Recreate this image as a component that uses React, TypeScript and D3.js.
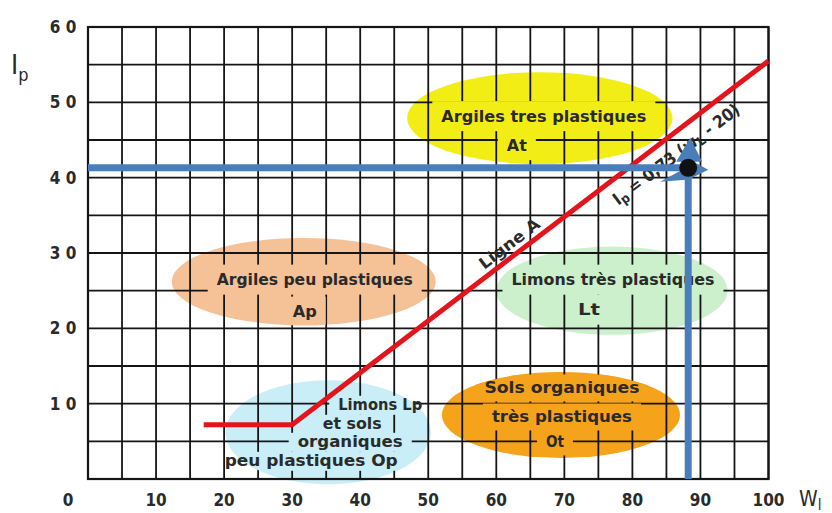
import React from 'react';
import * as d3 from 'd3';

// ---------- data ----------
const gridWL = [0, 5, 10, 15, 20, 25, 30, 35, 40, 45, 50, 55, 60, 65, 70, 75, 80, 85, 90, 95, 100];
const gridIp = [0, 5, 10, 15, 20, 25, 30, 35, 40, 45, 50, 55, 60];
const xTickValues = [10, 20, 30, 40, 50, 60, 70, 80, 90, 100];
const yTickValues = [10, 20, 30, 40, 50, 60];
const originLabel = '0';

// Ligne A (as drawn)
const lineAWL = [17, 30, 100];
const lineAIp = [7.2, 7.2, 55.5];

// sample point
const sampleWL = 88.2;
const sampleIp = 41.3;

// zones
const zoneLines = [
  ['Argiles tres plastiques', 'At'],
  ['Argiles peu plastiques', 'Ap'],
  ['Limons très plastiques', 'Lt'],
  ['Sols organiques', 'très plastiques', 'Ot'],
  ['Limons Lp', 'et sols', 'organiques', 'peu plastiques Op'],
];
const zoneWL = [66.4, 31.7, 77.0, 69.5, 35.3];
const zoneIp = [47.9, 26.2, 25.0, 8.5, 6.2];
const zoneSpanWL = [19.5, 19.4, 17.0, 17.5, 15.1];
const zoneSpanIp = [6.1, 5.8, 5.85, 5.7, 6.9];

// ---------- styles / layout ----------
const W = 832;
const H = 513;
const M = { left: 88, top: 27, right: 768.5, bottom: 479 };
const FONT = "'DejaVu Sans Condensed', 'DejaVu Sans', sans-serif";
const TEXT = '#2a2a2a';
const zoneStyle = [
  { fill: '#f3ed16', rowH: 30, fs: 16, lines: [{ dx: 4, dy: -2, w: 205 }, { dx: -23, dy: 27, w: 20 }] },
  { fill: '#f5c197', rowH: 30, fs: 16, lines: [{ dx: 11, dy: -2, w: 196 }, { dx: 1, dy: 30, w: 24 }] },
  { fill: '#cbf0cb', rowH: 30, fs: 16, lines: [{ dx: 1, dy: -11, w: 203 }, { dx: -23, dy: 19, w: 22 }] },
  { fill: '#f6a31c', rowH: 27, fs: 16, lines: [{ dx: 1, dy: -27, w: 155 }, { dx: 1, dy: 2, w: 140 }, { dx: -6, dy: 27, w: 18 }] },
  { fill: '#c9eef8', rowH: 19, fs: 15, lines: [{ dx: 52, dy: -27, w: 84 }, { dx: 24, dy: -8, w: 59 }, { dx: 22, dy: 10, w: 105 }, { dx: -17, dy: 29, w: 173 }] },
];

export default function App() {
  const x = d3.scaleLinear().domain([0, 100]).range([M.left, M.right]);
  const y = d3.scaleLinear().domain([0, 60]).range([M.bottom, M.top]);

  const linePts: [number, number][] = lineAWL.map((w, i) => [x(w), y(lineAIp[i])]);
  const linePath = d3.line()(linePts) || '';

  const theta = Math.atan2(y(lineAIp[2]) - y(lineAIp[1]), x(lineAWL[2]) - x(lineAWL[1]));
  const angDeg = (theta * 180) / Math.PI;
  const onLine = (w: number): [number, number] => {
    const ip = lineAIp[1] + ((lineAIp[2] - lineAIp[1]) * (w - lineAWL[1])) / (lineAWL[2] - lineAWL[1]);
    return [x(w), y(ip)];
  };
  const nUp = [Math.sin(theta), -Math.cos(theta)];
  const [la0, la1] = onLine(63);
  const ligneA = [la0 + nUp[0] * 12, la1 + nUp[1] * 12];
  const [f0, f1] = onLine(84.8);
  const formula = [f0 - nUp[0] * 18, f1 - nUp[1] * 18];

  const cx = x(sampleWL);
  const cy = y(sampleIp);
  const blue = '#4a7ebb';

  const zoneGeom = zoneLines.map((_, i) => ({
    cx: x(zoneWL[i]),
    cy: y(zoneIp[i]),
    rx: x(zoneSpanWL[i]) - x(0),
    ry: y(0) - y(zoneSpanIp[i]),
  }));

  return (
    <svg width={W} height={H} style={{ position: 'absolute', left: 0, top: 0, background: '#fff' }}>
      <defs>
        {zoneGeom.map((g, i) => (
          <clipPath id={'zc' + i} key={'zc' + i}>
            <ellipse cx={g.cx} cy={g.cy} rx={g.rx} ry={g.ry} />
          </clipPath>
        ))}
      </defs>

      {/* zones */}
      {zoneGeom.map((g, i) => (
        <ellipse key={'e' + i} cx={g.cx} cy={g.cy} rx={g.rx} ry={g.ry} fill={zoneStyle[i].fill} />
      ))}

      {/* grid */}
      <g stroke="#151515" strokeWidth={1.8}>
        {gridWL.map((v) => (
          <line key={'gx' + v} x1={x(v)} x2={x(v)} y1={y(0)} y2={y(60)} />
        ))}
        {gridIp.map((v) => (
          <line key={'gy' + v} x1={x(0)} x2={x(100)} y1={y(v)} y2={y(v)} />
        ))}
      </g>
      <rect x={x(0)} y={y(60)} width={x(100) - x(0)} height={y(0) - y(60)} fill="none" stroke="#151515" strokeWidth={2.2} />

      {/* cleared text areas + zone labels */}
      {zoneLines.map((lines, i) => {
        const g = zoneGeom[i];
        const st = zoneStyle[i];
        return (
          <g key={'z' + i}>
            <g clipPath={`url(#zc${i})`}>
              {lines.map((t, j) => {
                const l = st.lines[j];
                return (
                  <rect
                    key={'r' + j}
                    x={g.cx + l.dx - l.w / 2 - 9}
                    y={g.cy + l.dy - st.rowH / 2}
                    width={l.w + 18}
                    height={st.rowH}
                    fill={st.fill}
                  />
                );
              })}
            </g>
            {lines.map((t, j) => {
              const l = st.lines[j];
              return (
                <text
                  key={'t' + j}
                  x={g.cx + l.dx}
                  y={g.cy + l.dy}
                  textAnchor="middle"
                  dominantBaseline="central"
                  fontFamily={FONT}
                  fontStretch="condensed"
                  fontWeight={600}
                  fontSize={st.fs}
                  fill={TEXT}
                  textLength={l.w}
                  lengthAdjust="spacingAndGlyphs"
                >
                  {t}
                </text>
              );
            })}
          </g>
        );
      })}

      {/* Ligne A */}
      <path d={linePath} fill="none" stroke="#e4141c" strokeWidth={5} strokeLinejoin="miter" />
      <text
        x={ligneA[0]}
        y={ligneA[1]}
        transform={`rotate(${angDeg},${ligneA[0]},${ligneA[1]})`}
        textAnchor="middle"
        dominantBaseline="central"
        fontFamily={FONT}
        fontStretch="condensed"
        fontWeight={600}
        fontSize={16}
        fill={TEXT}
        textLength={72}
        lengthAdjust="spacingAndGlyphs"
      >
        Ligne A
      </text>
      <text
        x={formula[0]}
        y={formula[1]}
        transform={`rotate(${angDeg},${formula[0]},${formula[1]})`}
        textAnchor="middle"
        dominantBaseline="central"
        fontFamily={FONT}
        fontStretch="condensed"
        fontWeight={600}
        fontSize={17}
        fill={TEXT}
      >
        I<tspan fontSize={13} dy={4}>p</tspan>
        <tspan dy={-4}> = 0,73 (w</tspan>
        <tspan fontSize={13} dy={4}>L</tspan>
        <tspan dy={-4}> - 20)</tspan>
      </text>

      {/* sample point markers */}
      <line x1={x(0)} x2={cx - 4} y1={cy} y2={cy} stroke={blue} strokeWidth={7} />
      <line x1={cx} x2={cx} y1={y(0)} y2={cy + 4} stroke={blue} strokeWidth={7} />
      <path d={`M${cx + 2},${cy - 30} L${cx + 14},${cy - 6} L${cx - 12},${cy - 6} Z`} fill={blue} />
      <path d={`M${cx + 20},${cy + 2} L${cx - 2},${cy + 13} L${cx - 2},${cy - 10} Z`} fill={blue} />
      <path d={`M${cx - 28},${cy + 14} L${cx - 6},${cy + 2} L${cx - 2},${cy + 12} Z`} fill={blue} />
      <circle cx={cx} cy={cy} r={9} fill="#111" />

      {/* axes labels */}
      {yTickValues.map((v) => (
        <text
          key={'yt' + v}
          x={63}
          y={y(v)}
          textAnchor="middle"
          dominantBaseline="central"
          fontFamily={FONT}
          fontStretch="condensed"
          fontWeight={600}
          fontSize={17}
          fill={TEXT}
        >
          {String(v).split('').join(' ')}
        </text>
      ))}
      {xTickValues.map((v) => (
        <text
          key={'xt' + v}
          x={x(v)}
          y={y(0) + 21}
          textAnchor="middle"
          dominantBaseline="central"
          fontFamily={FONT}
          fontStretch="condensed"
          fontWeight={600}
          fontSize={17}
          fill={TEXT}
        >
          {v}
        </text>
      ))}
      <text
        x={x(0) - 20}
        y={y(0) + 21}
        textAnchor="middle"
        dominantBaseline="central"
        fontFamily={FONT}
        fontStretch="condensed"
        fontWeight={600}
        fontSize={17}
        fill={TEXT}
      >
        {originLabel}
      </text>

      {/* axis titles */}
      <text x={11} y={74} fontFamily={FONT} fontSize={27} fill={TEXT}>
        I<tspan fontSize={18} dy={7}>p</tspan>
      </text>
      <text x={799} y={506} fontFamily={FONT} fontSize={21} fill={TEXT}>
        W<tspan fontSize={15} dy={4}>l</tspan>
      </text>
    </svg>
  );
}
